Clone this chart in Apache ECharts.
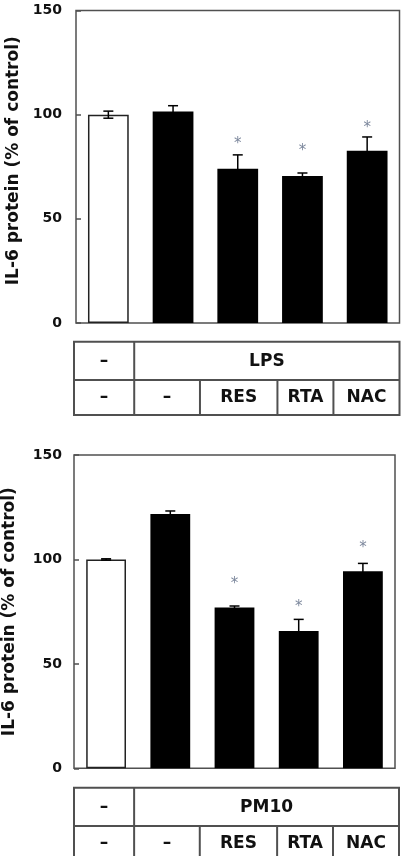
<!DOCTYPE html>
<html>
<head>
<meta charset="utf-8">
<script src="https://cdn.jsdelivr.net/npm/echarts@6/dist/echarts.min.js"></script>
<style>
  html, body { margin: 0; padding: 0; background: #fff; }
  #chart { width: 401px; height: 856px; }
</style>
</head>
<body>
<div id="chart"></div>
<script>
// data
const categories = ['Control', 'LPS/PM10', '+RES', '+RTA', '+NAC']
const lpsMeans = [100, 101.5, 74, 70.6, 82.7]
const lpsErrors = [1.7, 2.8, 6.7, 1.4, 6.6]
const lpsStars = [null, null, 87.8, 84.6, 95.7]
const pmMeans = [100, 121.7, 77, 65.7, 94.4]
const pmErrors = [0.3, 1.5, 0.7, 5.6, 3.7]
const pmStars = [null, null, 90.1, 79.2, 107.3]
const yMin = 0
const yMax = 150
const yStep = 50
const lpsRow1 = ['–', 'LPS']
const pmRow1 = ['–', 'PM10']
const treatRow = ['–', '–', 'RES', 'RTA', 'NAC']

const FONT = 'DejaVu Sans'
const LINE = '#505050'
const chart = echarts.init(document.getElementById('chart'))

function barData(means) {
  return means.map((v, i) => ({
    value: v,
    itemStyle: i === 0
      ? { color: '#fff', borderColor: '#222', borderWidth: 1.5 }
      : { color: '#000' }
  }))
}

function errorSeries(idx, means, errors) {
  return {
    type: 'custom',
    xAxisIndex: idx,
    yAxisIndex: idx,
    z: 3,
    data: means.map((m, i) => [i, m - errors[i], m + errors[i]]),
    renderItem(params, api) {
      const lo = api.coord([api.value(0), api.value(1)])
      const hi = api.coord([api.value(0), api.value(2)])
      const half = 5
      const style = { stroke: '#000', lineWidth: 1.5 }
      return {
        type: 'group',
        children: [
          { type: 'line', shape: { x1: lo[0], y1: lo[1], x2: hi[0], y2: hi[1] }, style },
          { type: 'line', shape: { x1: hi[0] - half, y1: hi[1], x2: hi[0] + half, y2: hi[1] }, style },
          { type: 'line', shape: { x1: lo[0] - half, y1: lo[1], x2: lo[0] + half, y2: lo[1] }, style }
        ]
      }
    }
  }
}

function starSeries(idx, stars) {
  return {
    type: 'custom',
    xAxisIndex: idx,
    yAxisIndex: idx,
    z: 4,
    data: stars.map((v, i) => [i, v]).filter(d => d[1] !== null),
    renderItem(params, api) {
      const p = api.coord([api.value(0), api.value(1)])
      return {
        type: 'text',
        x: p[0],
        y: p[1] + 4,
        style: {
          text: '*', fill: '#7c879c', fontSize: 15, fontFamily: FONT,
          align: 'center', verticalAlign: 'middle'
        }
      }
    }
  }
}

// table under each panel
const colEdges = [0, 0.185, 0.387, 0.625, 0.797, 1]
function tableGraphics(x0, x1, y0, y1, y2, row1, row2) {
  const w = x1 - x0
  const cx = colEdges.map(f => x0 + f * w)
  const ls = { stroke: LINE, lineWidth: 2 }
  const ts = (t, x, y) => ({
    type: 'text', x, y,
    style: { text: t, font: 'bold 17px "' + FONT + '"', fill: '#111', align: 'center', verticalAlign: 'middle' }
  })
  const els = [
    { type: 'rect', shape: { x: x0, y: y0, width: w, height: y2 - y0 }, style: { fill: 'none', stroke: LINE, lineWidth: 2 } },
    { type: 'line', shape: { x1: x0, y1: y1, x2: x1, y2: y1 }, style: ls },
    { type: 'line', shape: { x1: cx[1], y1: y0, x2: cx[1], y2: y2 }, style: ls }
  ]
  for (let i = 2; i < 5; i++) {
    els.push({ type: 'line', shape: { x1: cx[i], y1: y1, x2: cx[i], y2: y2 }, style: ls })
  }
  els.push(ts(row1[0], (cx[0] + cx[1]) / 2, (y0 + y1) / 2 + 1))
  els.push(ts(row1[1], (cx[1] + cx[5]) / 2, (y0 + y1) / 2 + 1))
  row2.forEach((t, i) => els.push(ts(t, (cx[i] + cx[i + 1]) / 2, (y1 + y2) / 2)))
  return els
}

function yAxisOpt(idx, gap, margin, pad) {
  return {
    type: 'value', gridIndex: idx, min: yMin, max: yMax, interval: yStep,
    name: 'IL-6 protein (% of control)',
    nameLocation: 'middle', nameGap: gap,
    nameTextStyle: { fontFamily: FONT, fontWeight: 'bold', fontSize: 17, color: '#111', padding: pad },
    axisLine: { show: false },
    axisTick: { show: true, inside: true, length: 5, lineStyle: { color: LINE, width: 1.5 } },
    axisLabel: { fontFamily: FONT, fontWeight: 'bold', fontSize: 14, color: '#111', margin: margin },
    splitLine: { show: false }
  }
}

function xAxisOpt(idx) {
  return {
    type: 'category', gridIndex: idx, data: categories,
    axisLine: { show: false }, axisTick: { show: false }, axisLabel: { show: false }
  }
}

chart.setOption({
  animation: false,
  grid: [
    { left: 76, top: 10.5, width: 323.5, height: 312.5, show: true, borderColor: LINE, borderWidth: 1.5, containLabel: false, outerBoundsMode: 'none' },
    { left: 74, top: 455, width: 321, height: 313.3, show: true, borderColor: LINE, borderWidth: 1.5, containLabel: false, outerBoundsMode: 'none' }
  ],
  xAxis: [xAxisOpt(0), xAxisOpt(1)],
  yAxis: [yAxisOpt(0, 47, 14, [0, 0, 0, 12]), yAxisOpt(1, 56, 12, 0)],
  series: [
    { type: 'bar', xAxisIndex: 0, yAxisIndex: 0, barWidth: '63%', data: barData(lpsMeans) },
    errorSeries(0, lpsMeans, lpsErrors),
    starSeries(0, lpsStars),
    { type: 'bar', xAxisIndex: 1, yAxisIndex: 1, barWidth: '62%', data: barData(pmMeans) },
    errorSeries(1, pmMeans, pmErrors),
    starSeries(1, pmStars)
  ],
  graphic: [
    ...tableGraphics(74, 399.5, 341.7, 380, 415, lpsRow1, treatRow),
    ...tableGraphics(74, 399, 787.7, 826, 861, pmRow1, treatRow)
  ]
})
</script>
</body>
</html>
